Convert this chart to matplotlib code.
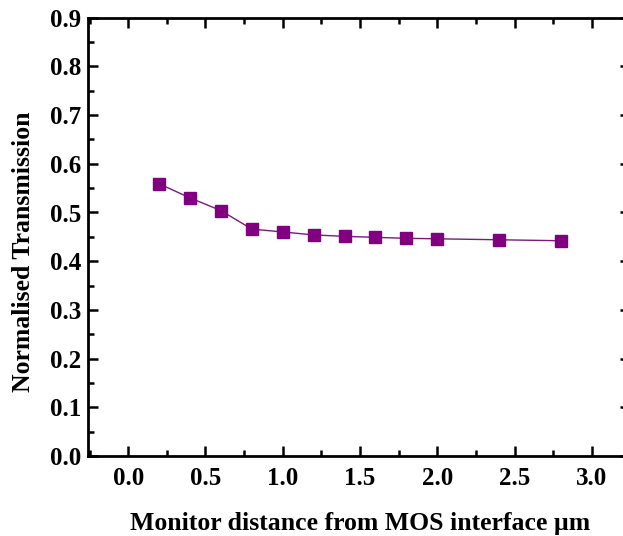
import matplotlib
matplotlib.use("Agg")
import matplotlib.pyplot as plt
from matplotlib.ticker import MultipleLocator

# distance of monitor from MOS interface (um) and normalised transmission
distance = [0.2, 0.4, 0.6, 0.8, 1.0, 1.2, 1.4, 1.6, 1.8, 2.0, 2.4, 2.8]
transmission = [0.559, 0.530, 0.504, 0.466, 0.460, 0.454, 0.451, 0.449,
                0.447, 0.446, 0.444, 0.442]

plt.rcParams['font.family'] = ['Liberation Serif', 'DejaVu Serif']
plt.rcParams['font.weight'] = 'bold'

W, H = 623, 536
fig = plt.figure(figsize=(W / 100, H / 100), dpi=100)
left, right, top, bottom = 88, 630.4, 17.7, 456
aw, ah = right - left, bottom - top
ax = fig.add_axes([left / W, (H - bottom) / H, aw / W, ah / H])

ax.plot(distance, transmission, color='#7a1a7a', lw=1.0, marker='s',
        markersize=8, markerfacecolor='#800080', markeredgecolor='#800080')

ax.set_xlim(-0.26, 3.25)
ax.set_ylim(0.0, 0.9)
ax.xaxis.set_major_locator(MultipleLocator(0.5))
ax.xaxis.set_minor_locator(MultipleLocator(0.25))
ax.yaxis.set_major_locator(MultipleLocator(0.1))
ax.yaxis.set_minor_locator(MultipleLocator(0.05))
ax.tick_params(which='both', direction='in', top=True, right=True, width=1.8,
               labelsize=18)
ax.tick_params(axis='x', pad=8)
ax.tick_params(axis='y', pad=5)
ax.tick_params(which='major', length=7)
ax.tick_params(which='minor', length=4)
ax.xaxis.set_major_formatter(plt.FormatStrFormatter('%.1f'))
ax.yaxis.set_major_formatter(plt.FormatStrFormatter('%.1f'))
for lab in ax.get_xticklabels() + ax.get_yticklabels():
    lab.set_fontweight('bold')
for s in ax.spines.values():
    s.set_linewidth(2)

ax.set_xlabel('Monitor distance from MOS interface \u00b5m', fontsize=18.5,
              fontweight='bold')
ax.set_ylabel('Normalised Transmission', fontsize=18.5, fontweight='bold')
ax.xaxis.set_label_coords((360 - left) / aw, -(512 - bottom) / ah)
ax.yaxis.set_label_coords((35 - left) / aw, (bottom - 252) / ah)

fig.savefig('out.png', dpi=100)
